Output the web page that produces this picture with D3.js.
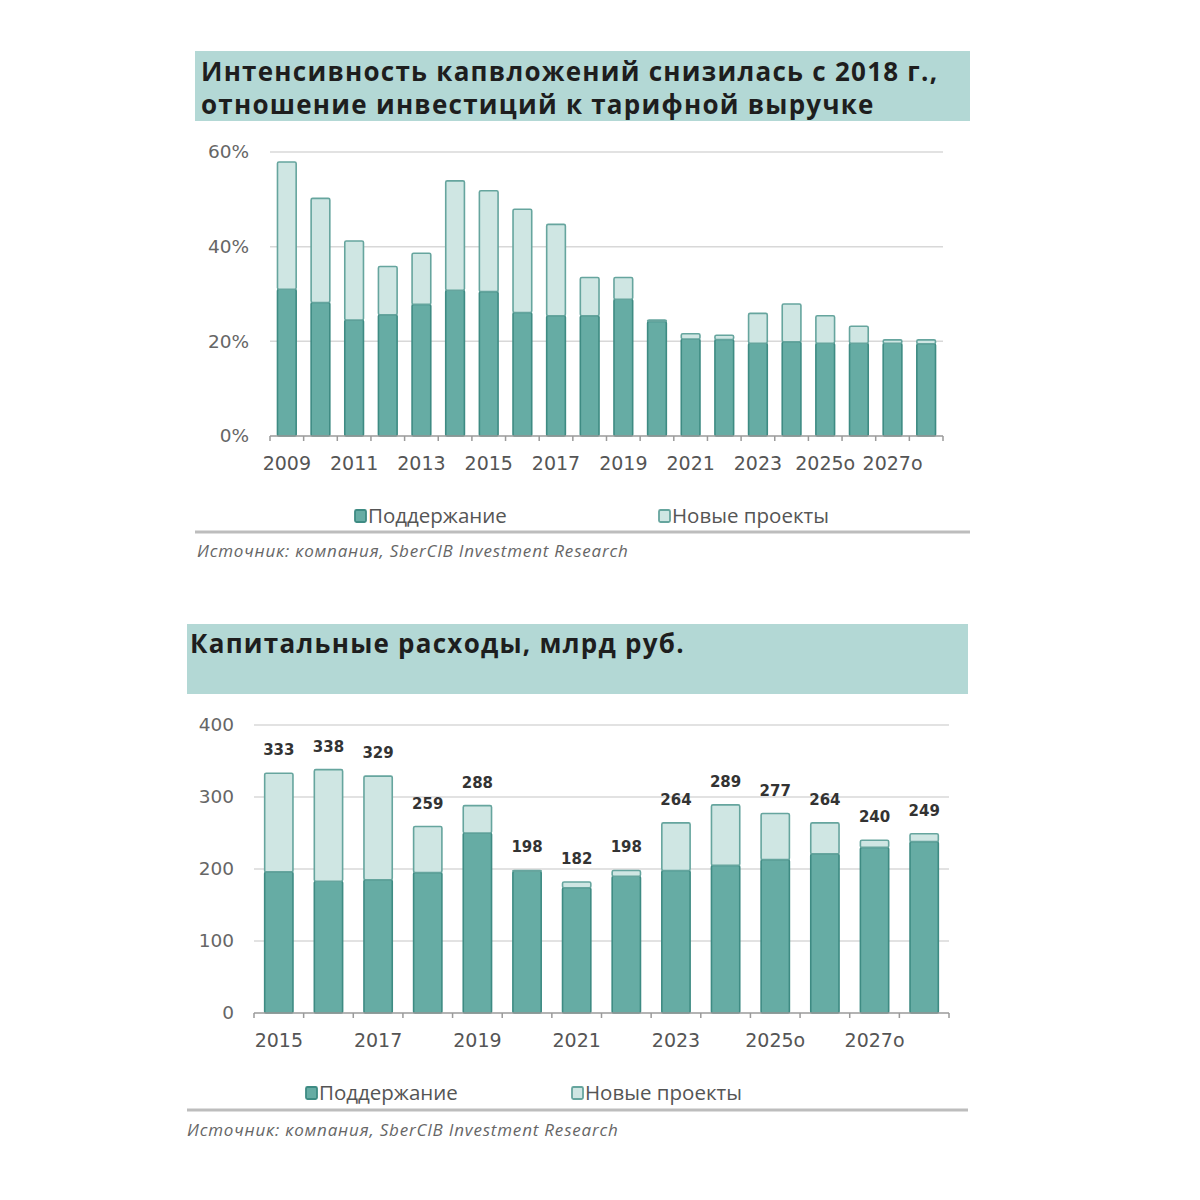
<!DOCTYPE html>
<html>
<head>
<meta charset="utf-8">
<script src="https://cdn.jsdelivr.net/npm/d3@7"></script>
<style>
  body { margin: 0; background: #fff; }
</style>
</head>
<body>
<div id="vis"></div>
<script>
// Chart 1: интенсивность капвложений, %
const YEARS_1 = ["2009", "2010", "2011", "2012", "2013", "2014", "2015", "2016", "2017", "2018",
  "2019", "2020", "2021", "2022", "2023", "2024о", "2025о", "2026о", "2027о", "2028о"];
const MAINT_1 = [31.0, 28.2, 24.5, 25.6, 27.8, 30.8, 30.5, 26.1, 25.4, 25.4,
  28.9, 24.2, 20.5, 20.4, 19.6, 19.9, 19.6, 19.6, 19.6, 19.5];
const NEW_1 = [26.9, 22.0, 16.7, 10.2, 10.8, 23.1, 21.3, 21.8, 19.3, 8.1,
  4.6, 0.3, 1.1, 0.9, 6.3, 8.0, 5.8, 3.6, 0.7, 0.8];
const TICKS_1 = [0, 20, 40, 60];

// Chart 2: капитальные расходы, млрд руб.
const YEARS_2 = ["2015", "2016", "2017", "2018", "2019", "2020", "2021", "2022", "2023",
  "2024о", "2025о", "2026о", "2027о", "2028о"];
const MAINT_2 = [196, 183, 185, 195, 250, 197, 174, 190, 198, 205, 213, 221, 230, 238];
const NEW_2 = [137, 155, 144, 64, 38, 1, 8, 8, 66, 84, 64, 43, 10, 11];
const TOTAL_2 = [333, 338, 329, 259, 288, 198, 182, 198, 264, 289, 277, 264, 240, 249];
const TICKS_2 = [0, 100, 200, 300, 400];

const SERIES = ["Поддержание", "Новые проекты"];
const SOURCE = "Источник: компания, SberCIB Investment Research";

const FILL = ["#66aca4", "#cfe6e3"];
const STROKE = ["#3e8b83", "#66a59e"];
const BOX = "#b3d8d5";

const svg = d3.select("#vis").append("svg")
  .attr("width", 1200).attr("height", 1200);

drawChart({
  box: [195, 51, 775, 70],
  title: ["Интенсивность капвложений снизилась с 2018 г.,", "отношение инвестиций к тарифной выручке"],
  titleY: 81,
  titleX: 201,
  years: YEARS_1, maint: MAINT_1, extra: NEW_1, ticks: TICKS_1,
  fmt: d => d + "%",
  x0: 270, x1: 943, y0: 436, y1: 152, maxV: 60,
  yLabelX: 249,
  labels: null,
  legendY: 516, legendX: [355, 659],
  ruleY: 532, ruleX: [195, 970],
  sourceY: 557, sourceX: 197
});

drawChart({
  box: [187, 624, 781, 70],
  title: ["Капитальные расходы, млрд руб."],
  titleY: 653,
  titleX: 190,
  years: YEARS_2, maint: MAINT_2, extra: NEW_2, ticks: TICKS_2,
  fmt: d => d,
  x0: 254, x1: 949, y0: 1013, y1: 725, maxV: 400,
  yLabelX: 234,
  labels: TOTAL_2,
  legendY: 1093, legendX: [306, 572],
  ruleY: 1110, ruleX: [187, 968],
  sourceY: 1136, sourceX: 187
});

function drawChart(c) {
  const g = svg.append("g");

  // title box
  g.append("rect")
    .attr("x", c.box[0]).attr("y", c.box[1])
    .attr("width", c.box[2]).attr("height", c.box[3])
    .attr("fill", BOX);

  g.selectAll(".title")
    .data(c.title)
    .enter()
    .append("text")
    .attr("x", c.titleX)
    .attr("y", (d, i) => c.titleY + i * 33)
    .attr("font-family", "Open Sans")
    .attr("font-weight", 700)
    .attr("font-size", 26)
    .attr("letter-spacing", 1.25)
    .attr("fill", "#1e1e1e")
    .text(d => d);

  const x = d3.scaleBand()
    .domain(c.years)
    .range([c.x0, c.x1])
    .paddingInner(0.4)
    .paddingOuter(0.2);

  const y = d3.scaleLinear()
    .domain([0, c.maxV])
    .range([c.y0, c.y1]);

  // gridlines
  g.selectAll(".grid")
    .data(c.ticks.filter(t => t > 0))
    .enter()
    .append("line")
    .attr("x1", c.x0).attr("x2", c.x1)
    .attr("y1", d => y(d)).attr("y2", d => y(d))
    .attr("stroke", "#d8d8d8")
    .attr("stroke-width", 1.5);

  // y labels
  const yAxis = g.append("g")
    .attr("transform", `translate(${c.yLabelX + 9},0)`)
    .call(d3.axisLeft(y).tickValues(c.ticks).tickSize(0).tickPadding(9).tickFormat(c.fmt));
  yAxis.select(".domain").remove();
  yAxis.selectAll("text")
    .attr("font-family", "DejaVu Sans")
    .attr("font-size", 18.5)
    .attr("fill", "#666");

  // stacked bars
  const rows = c.years.map((yr, i) => ({ year: yr, m: c.maint[i], n: c.extra[i] }));
  const stack = d3.stack().keys(["m", "n"])(rows);

  stack.forEach((layer, k) => {
    g.selectAll(".bar" + k)
      .data(layer)
      .enter()
      .append("rect")
      .attr("x", d => x(d.data.year) + 0.75)
      .attr("width", x.bandwidth() - 1.5)
      .attr("y", d => y(d[1]))
      .attr("height", d => Math.max(0, y(d[0]) - y(d[1])))
      .attr("rx", 1.5)
      .attr("fill", FILL[k])
      .attr("stroke", STROKE[k])
      .attr("stroke-width", 1.6);
  });

  // total labels
  if (c.labels) {
    g.selectAll(".lbl")
      .data(c.labels)
      .enter()
      .append("text")
      .attr("x", (d, i) => x(c.years[i]) + x.bandwidth() / 2)
      .attr("y", d => y(d) - 18)
      .attr("text-anchor", "middle")
      .attr("font-family", "DejaVu Sans")
      .attr("font-weight", 700)
      .attr("font-size", 15)
      .attr("fill", "#333")
      .text(d => d);
  }

  // x axis
  const xAxis = g.append("g")
    .attr("transform", `translate(0,${c.y0})`)
    .call(d3.axisBottom(x).tickSize(0).tickPadding(21)
      .tickFormat((d, i) => i % 2 === 0 ? d : ""));
  xAxis.select(".domain")
    .attr("stroke", "#9a9a9a")
    .attr("stroke-width", 1.5)
    .attr("d", `M${c.x0},0H${c.x1}`);
  xAxis.selectAll("text")
    .attr("font-family", "DejaVu Sans")
    .attr("font-size", 19)
    .attr("fill", "#555");

  // tick marks at band boundaries
  const step = x.step();
  xAxis.selectAll(".bnd")
    .data(d3.range(c.years.length + 1))
    .enter()
    .append("line")
    .attr("x1", i => c.x0 + i * step).attr("x2", i => c.x0 + i * step)
    .attr("y1", 0).attr("y2", 5)
    .attr("stroke", "#9a9a9a")
    .attr("stroke-width", 1.5);

  // legend
  SERIES.forEach((s, k) => {
    g.append("rect")
      .attr("x", c.legendX[k]).attr("y", c.legendY - 6)
      .attr("width", 11).attr("height", 12)
      .attr("rx", 1.5)
      .attr("fill", FILL[k])
      .attr("stroke", STROKE[k])
      .attr("stroke-width", 1.8);
    g.append("text")
      .attr("x", c.legendX[k] + 13)
      .attr("y", c.legendY + 7)
      .attr("font-family", "Open Sans")
      .attr("font-size", 20.5)
      .attr("fill", "#555")
      .text(s);
  });

  // rule + source
  g.append("line")
    .attr("x1", c.ruleX[0]).attr("x2", c.ruleX[1])
    .attr("y1", c.ruleY).attr("y2", c.ruleY)
    .attr("stroke", "#bdbdbd")
    .attr("stroke-width", 3);

  g.append("text")
    .attr("x", c.sourceX)
    .attr("y", c.sourceY)
    .attr("font-family", "Open Sans")
    .attr("font-style", "italic")
    .attr("font-size", 17)
    .attr("letter-spacing", 0.8)
    .attr("fill", "#666")
    .text(SOURCE);
}
</script>
</body>
</html>
